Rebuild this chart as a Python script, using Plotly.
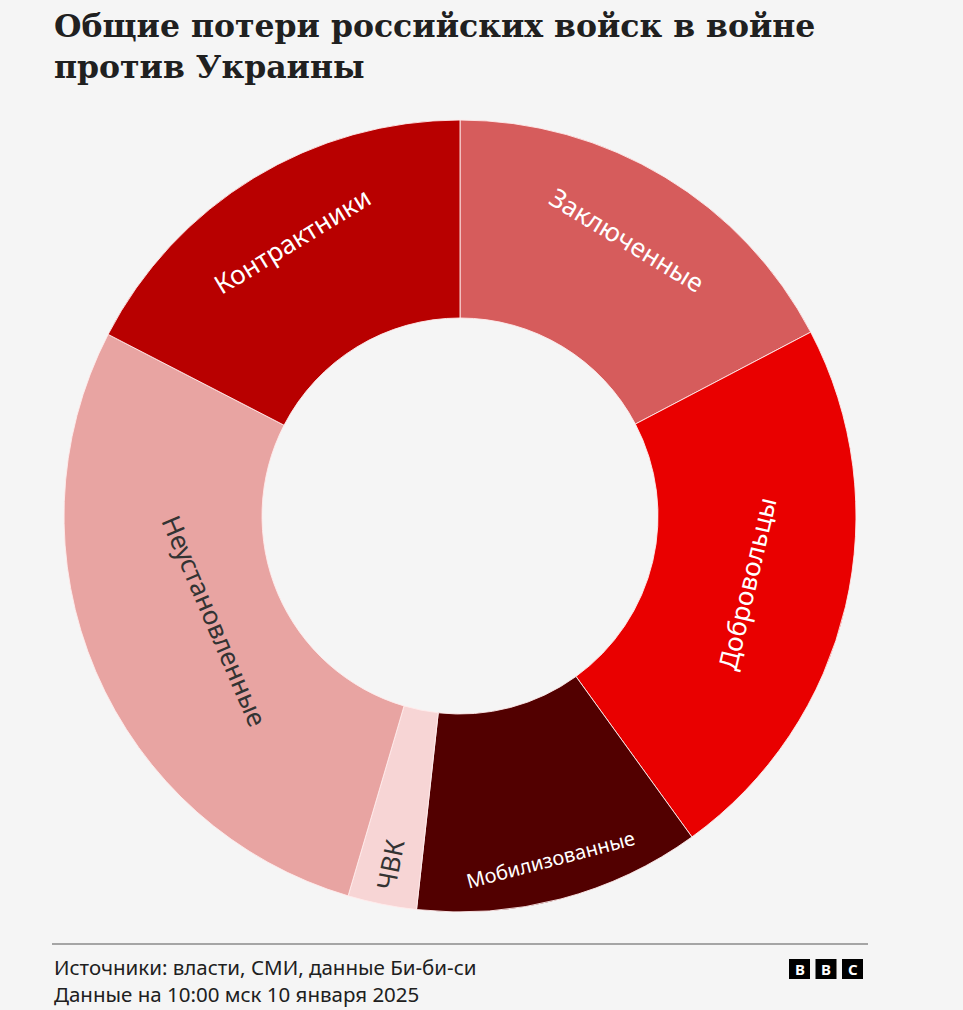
import plotly.graph_objects as go

# Data (approximate counts)
categories = ["Заключенные", "Добровольцы", "Мобилизованные", "ЧВК", "Неустановленные", "Контрактники"]
values = [15230, 19990, 10300, 2470, 24650, 15320]
colors = ["#d65c5c", "#e90000", "#520000", "#f7d5d5", "#e8a4a2", "#b80000"]
text_colors = ["white", "white", "white", "#333333", "#333333", "white"]
text_sizes = [26, 26, 20, 26, 26, 26]

title_lines = ["Общие потери российских войск в войне", "против Украины"]
source_lines = ["Источники: власти, СМИ, данные Би-би-си", "Данные на 10:00 мск 10 января 2025"]

W, H = 963, 1010
BG = "#f5f5f5"

cx, cy, R = 460, 516, 396
dom_x = [(cx - R) / W, (cx + R) / W]
dom_y = [1 - (cy + R) / H, 1 - (cy - R) / H]

small = "ЧВК"
main_text = ["" if c == small else c for c in categories]
side_text = [c if c == small else "" for c in categories]

fig = go.Figure()
fig.add_trace(go.Pie(
    labels=categories, values=values, text=main_text,
    textinfo="text", textposition="inside",
    insidetextorientation="tangential",
    sort=False, direction="clockwise", rotation=0, hole=0.5,
    marker=dict(colors=colors, line=dict(color="rgba(255,235,235,0.9)", width=1)),
    insidetextfont=dict(family="Noto Sans", color=text_colors, size=text_sizes),
    domain=dict(x=dom_x, y=dom_y), showlegend=False, hoverinfo="label+value",
))
fig.add_trace(go.Pie(
    labels=categories, values=values, text=side_text,
    textinfo="text", textposition="inside",
    insidetextorientation="radial",
    sort=False, direction="clockwise", rotation=0, hole=0.5,
    marker=dict(colors=["rgba(0,0,0,0)"] * len(categories), line=dict(width=0)),
    insidetextfont=dict(family="Noto Sans", color=text_colors, size=text_sizes),
    domain=dict(x=dom_x, y=dom_y), showlegend=False, hoverinfo="skip",
))

annotations = [
    dict(text="<b>" + "<br>".join(title_lines) + "</b>", x=52 / W, y=1 - 5 / H,
         xref="paper", yref="paper", xanchor="left", yanchor="top", align="left",
         showarrow=False, font=dict(family="DejaVu Serif", size=31.5, color="#202020")),
    dict(text="<br>".join(source_lines), x=52 / W, y=1 - 951 / H, xref="paper", yref="paper",
         xanchor="left", yanchor="top", align="left", showarrow=False,
         font=dict(family="Noto Sans", size=20.5, color="#202020")),
]

shapes = [dict(type="line", xref="paper", yref="paper", x0=52 / W, x1=868 / W,
               y0=1 - 944 / H, y1=1 - 944 / H, line=dict(color="#8a8a8a", width=1.5))]
for i, letter in enumerate(["B", "B", "C"]):
    x0 = 789 + i * 26.5
    shapes.append(dict(type="rect", xref="paper", yref="paper",
                       x0=x0 / W, x1=(x0 + 21) / W, y0=1 - 979 / H, y1=1 - 959 / H,
                       fillcolor="#000000", line=dict(width=0)))
    annotations.append(dict(text="<b>" + letter + "</b>", x=(x0 + 10.5) / W, y=1 - 969 / H,
                            xref="paper", yref="paper", showarrow=False,
                            xanchor="center", yanchor="middle",
                            font=dict(family="Noto Sans", size=15, color="white")))

fig.update_layout(
    width=W, height=H, margin=dict(l=0, r=0, t=0, b=0),
    paper_bgcolor=BG, plot_bgcolor=BG,
    annotations=annotations, shapes=shapes,
)

fig.write_html(
    "out.html",
    config={"displayModeBar": False},
    post_script="document.body.style.margin='0';document.body.style.background='#f5f5f5';",
)
